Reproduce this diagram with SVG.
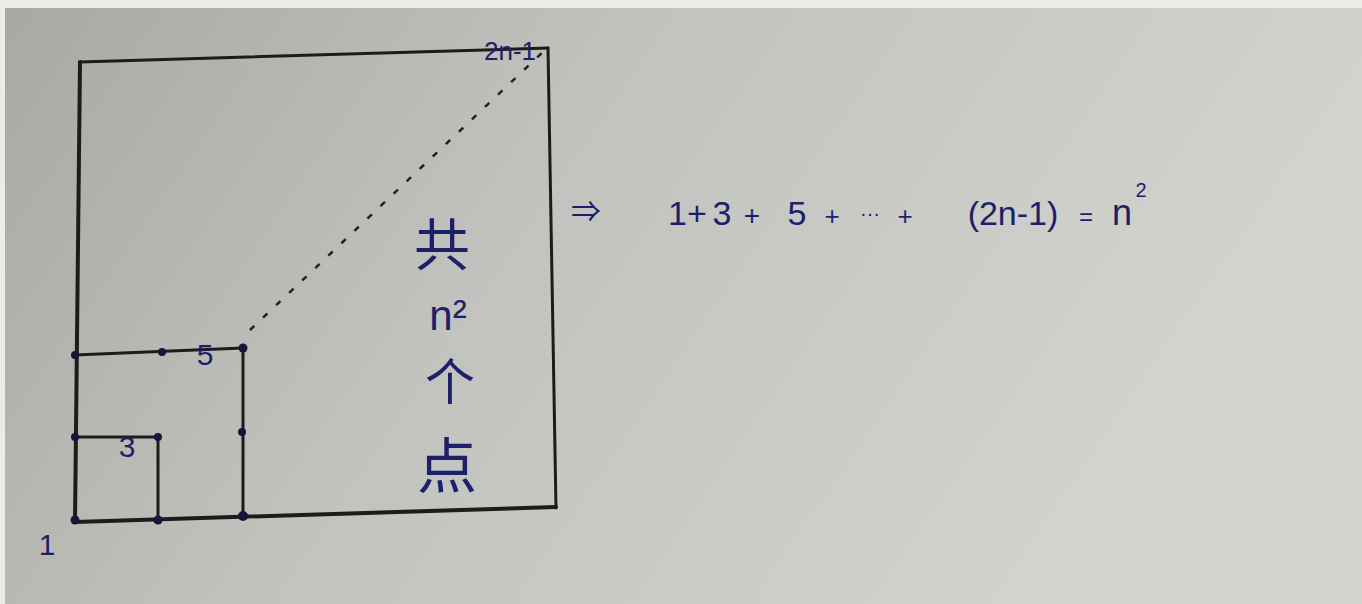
<svg xmlns="http://www.w3.org/2000/svg" width="1362" height="604" viewBox="0 0 1362 604">
<defs>
<linearGradient id="bg" x1="0" y1="0" x2="1" y2="0.3">
<stop offset="0" stop-color="#a9a9a4"/>
<stop offset="0.45" stop-color="#c2c2be"/>
<stop offset="1" stop-color="#d3d3cf"/>
</linearGradient>
<style>
.ln{stroke:#1c1c1c;stroke-width:3;fill:none;stroke-linecap:round}
.thk{stroke-width:4}
.dt{fill:#14163a}
.hw{fill:#1c1f6a;font-family:"Liberation Sans","Noto Sans CJK SC",sans-serif}
.dash{stroke:#222;stroke-width:2.5;stroke-dasharray:6 12;fill:none}
</style>
</defs>
<rect width="1362" height="604" fill="#ecebe8"/>
<rect x="5" y="8" width="1357" height="596" fill="url(#bg)"/>
<g id="connectors">
<path class="ln" d="M80,62 L548,48"/>
<path class="ln" d="M548,48 L556,508"/>
<path class="ln thk" d="M75,522 L556,507"/>
<path class="ln thk" d="M80,62 L75,522"/>
<path class="ln" d="M75,355 L243,348"/>
<path class="ln" d="M243,348 L243,517"/>
<path class="ln" d="M75,437 L158,437"/>
<path class="ln" d="M158,437 L158,520"/>
<path class="dash" d="M250,330 L545,50"/>
</g>
<g id="dots">
<circle class="dt" cx="75" cy="355" r="4"/>
<circle class="dt" cx="162" cy="352" r="4"/>
<circle class="dt" cx="243" cy="348" r="4.5"/>
<circle class="dt" cx="75" cy="437" r="4"/>
<circle class="dt" cx="158" cy="437" r="4"/>
<circle class="dt" cx="242" cy="432" r="4"/>
<circle class="dt" cx="75" cy="520" r="4.5"/>
<circle class="dt" cx="158" cy="520" r="4.5"/>
<circle class="dt" cx="243" cy="516" r="5"/>
</g>
<g id="labels">
<text class="hw" x="205" y="365" font-size="30" text-anchor="middle">5</text>
<text class="hw" x="127" y="457" font-size="30" text-anchor="middle">3</text>
<text class="hw" x="47" y="555" font-size="30" text-anchor="middle">1</text>
<text class="hw" x="510" y="60" font-size="26" text-anchor="middle">2n-1</text>
</g>
<g id="note">
<text class="hw" x="442" y="265" font-size="56" text-anchor="middle">共</text>
<text class="hw" x="448" y="330" font-size="42" text-anchor="middle">n²</text>
<text class="hw" x="450" y="400" font-size="50" text-anchor="middle">个</text>
<text class="hw" x="447" y="488" font-size="60" text-anchor="middle">点</text>
</g>
<g id="equation">
<text class="hw" x="586" y="222" font-size="30" text-anchor="middle">⇒</text>
<text class="hw" x="668" y="225" font-size="34">1+</text>
<text class="hw" x="722" y="225" font-size="34" text-anchor="middle">3</text>
<text class="hw" x="752" y="225" font-size="28" text-anchor="middle">+</text>
<text class="hw" x="797" y="225" font-size="34" text-anchor="middle">5</text>
<text class="hw" x="832" y="225" font-size="26" text-anchor="middle">+</text>
<text class="hw" x="870" y="220" font-size="20" text-anchor="middle">···</text>
<text class="hw" x="905" y="225" font-size="26" text-anchor="middle">+</text>
<text class="hw" x="1013" y="225" font-size="34" text-anchor="middle">(2n-1)</text>
<text class="hw" x="1086" y="225" font-size="24" text-anchor="middle">=</text>
<text class="hw" x="1122" y="225" font-size="36" text-anchor="middle">n</text>
<text class="hw" x="1141" y="197" font-size="20" text-anchor="middle">2</text>
</g>
</svg>
